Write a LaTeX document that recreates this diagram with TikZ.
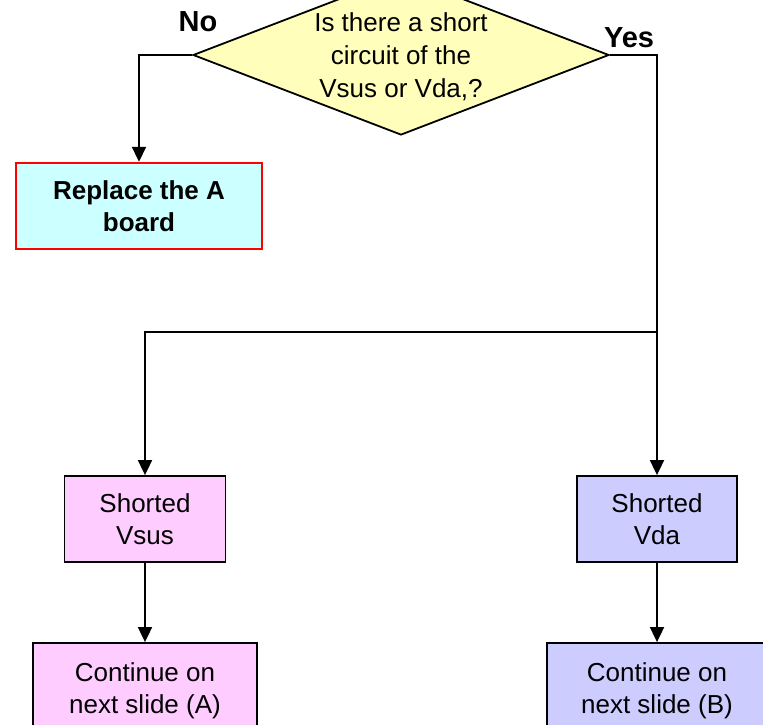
\documentclass[tikz,border=0pt]{standalone}
\usepackage{fontspec}
\setmainfont{Liberation Sans}
\usetikzlibrary{shapes.geometric, arrows.meta, positioning}

\definecolor{askyellow}{HTML}{FFFFBB}
\definecolor{fixcyan}{HTML}{CCFFFF}
\definecolor{suspink}{HTML}{FFCCFF}
\definecolor{dablue}{HTML}{CCCCFF}

\tikzset{
    box/.style={rectangle, draw, line width=1.8pt, align=center, inner sep=0pt,
        text depth=0pt, font=\fontsize{26}{32}\selectfont},
    link/.style={line width=1.8pt, -{Triangle[length=15pt, width=14pt]}},
    answer/.style={font=\bfseries\fontsize{29}{34}\selectfont},
}

\begin{document}
\begin{tikzpicture}[x=1pt, y=1pt]
        \clip (0,0) rectangle (763,-725);

        \node[diamond, draw, fill=askyellow, line width=1.8pt, inner sep=0pt,
            minimum width=416pt, minimum height=160pt] (ask) at (401,-55) {};
        \node[align=center, font=\fontsize{26}{33}\selectfont] (asktext) at (401,-57)
            {Is there a short\\circuit of the\\Vsus or Vda,?};
        \node[answer] (no) at (198,-22) {No};
        \node[answer] (yes) at (629,-38) {Yes};

        \node[box, draw=red, line width=2.4pt, fill=fixcyan, font=\bfseries\fontsize{26}{32}\selectfont,
            minimum width=246pt, minimum height=86pt] (fix) at (139,-206) {Replace the A\\board};

        \node[box, fill=suspink, minimum width=161pt, minimum height=86pt] (vsus) at (145,-519) {Shorted\\Vsus};
        \node[box, fill=dablue, minimum width=160pt, minimum height=86pt] (vda) at (657,-519) {Shorted\\Vda};

        \node[box, fill=suspink, minimum width=224pt, minimum height=90pt] (conta) at (145,-688) {Continue on\\next slide (A)};
        \node[box, fill=dablue, minimum width=220pt, minimum height=90pt] (contb) at (657,-688) {Continue on\\next slide (B)};

        \coordinate (split) at (657,-332);

        \draw[link] (ask.west) -| (fix.north);
        \draw[line width=1.8pt] (ask.east) -| (split);
        \draw[link] (split) -| (vsus.north);
        \draw[link] (split) -- (vda.north);
        \draw[link] (vsus) -- (conta);
        \draw[link] (vda) -- (contb);
\end{tikzpicture}
\end{document}
